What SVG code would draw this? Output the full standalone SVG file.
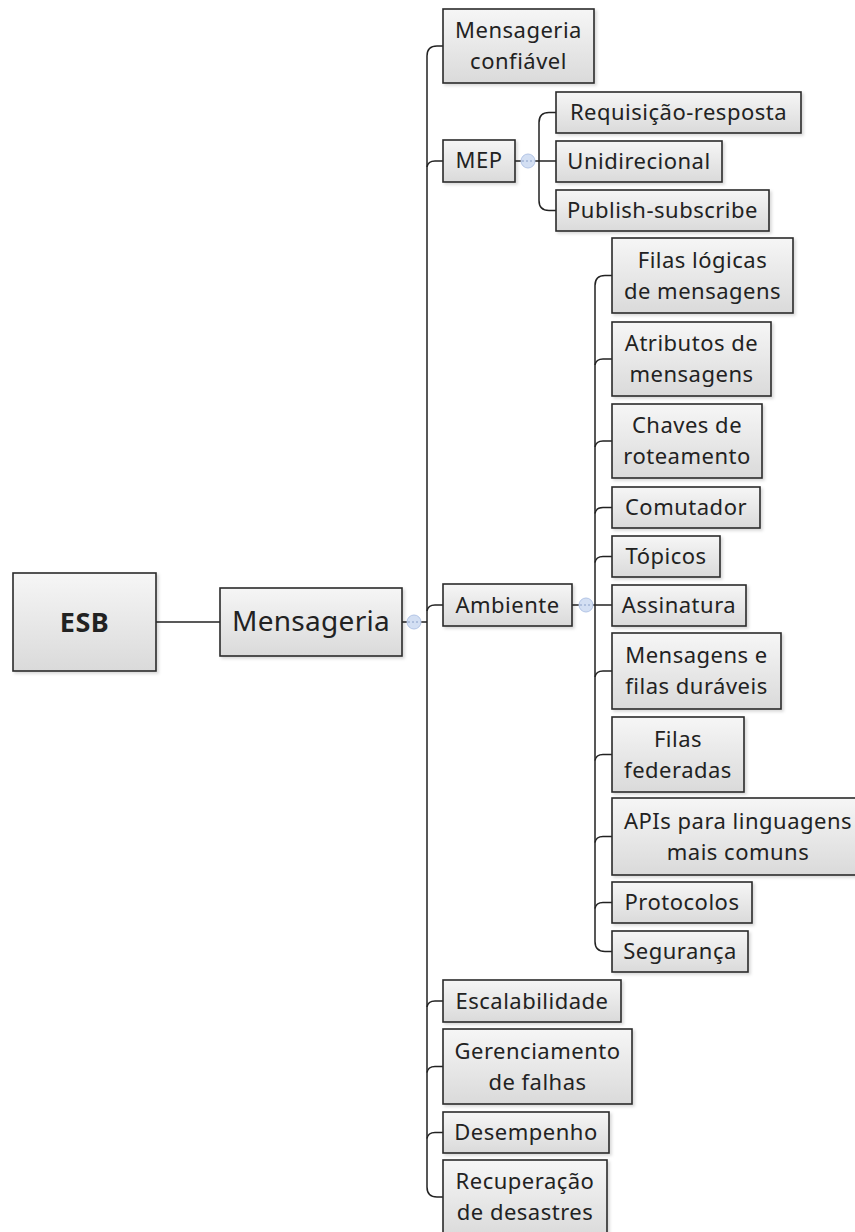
<svg xmlns="http://www.w3.org/2000/svg" width="855" height="1232" viewBox="0 0 855 1232">
<defs>
<linearGradient id="g" x1="0" y1="0" x2="0" y2="1">
<stop offset="0" stop-color="#f6f6f6"/>
<stop offset="1" stop-color="#dadada"/>
</linearGradient>
<filter id="sh" x="-10%" y="-10%" width="130%" height="130%">
<feDropShadow dx="2" dy="2" stdDeviation="1.5" flood-color="#000" flood-opacity="0.15"/>
</filter>
</defs>
<style>
.box{fill:url(#g);stroke:#2a2a2a;stroke-width:1.6;filter:url(#sh)}
.t{font-family:"Noto Sans","Open Sans",sans-serif;font-size:22px;fill:#222;text-anchor:middle;letter-spacing:0.5px}
.big{font-size:28px;letter-spacing:0.3px}
.esb{font-weight:bold;font-size:27px;letter-spacing:0.5px}
.c{fill:none;stroke:#222;stroke-width:1.5}
.k{fill:#d3dff3;stroke:#b3c5e6;stroke-width:1}
.km{stroke:#8aa0c8;stroke-width:1;stroke-dasharray:2 2}
</style>
<rect width="855" height="1232" fill="#fff"/>
<g id="connectors">
<path class="c" d="M156,622 H220"/>
<path class="c" d="M402,622 H427"/>
<path class="c" d="M443,46 H437 Q427,46 427,56 V1187 Q427,1197 437,1197 H443"/>
<path class="c" d="M427,167 Q428,161 435,161 H443"/>
<path class="c" d="M427,611 Q428,605 435,605 H443"/>
<path class="c" d="M427,1007 Q428,1001 435,1001 H443"/>
<path class="c" d="M427,1072.5 Q428,1066.5 435,1066.5 H443"/>
<path class="c" d="M427,1138.5 Q428,1132.5 435,1132.5 H443"/>
<path class="c" d="M515,161 H556"/>
<path class="c" d="M556,112.5 H549 Q539,112.5 539,122.5 V200.5 Q539,210.5 549,210.5 H556"/>
<path class="c" d="M572,605 H612"/>
<path class="c" d="M612,275.5 H605 Q595,275.5 595,285.5 V941.5 Q595,951.5 605,951.5 H612"/>
<path class="c" d="M595,365 Q596,359 603,359 H612"/>
<path class="c" d="M595,447 Q596,441 603,441 H612"/>
<path class="c" d="M595,513.5 Q596,507.5 603,507.5 H612"/>
<path class="c" d="M595,562.5 Q596,556.5 603,556.5 H612"/>
<path class="c" d="M595,677 Q596,671 603,671 H612"/>
<path class="c" d="M595,760.5 Q596,754.5 603,754.5 H612"/>
<path class="c" d="M595,842.5 Q596,836.5 603,836.5 H612"/>
<path class="c" d="M595,908.5 Q596,902.5 603,902.5 H612"/>
<circle class="k" cx="414" cy="622" r="7"/>
<path class="km" d="M408,622 H420"/>
<circle class="k" cx="528" cy="161" r="7"/>
<path class="km" d="M522,161 H534"/>
<circle class="k" cx="586" cy="605" r="7"/>
<path class="km" d="M580,605 H592"/>
</g>
<g id="esb"><rect class="box" x="13" y="573" width="143" height="98"/><text class="t esb" x="84.5" y="632">ESB</text></g>
<g id="mensageria"><rect class="box" x="220" y="588" width="182" height="68"/><text class="t big" x="311" y="631">Mensageria</text></g>
<g id="mensageria-confiavel"><rect class="box" x="443" y="9" width="151" height="74"/><text class="t" x="518.5" y="38">Mensageria</text><text class="t" x="518.5" y="69">confiável</text></g>
<g id="mep"><rect class="box" x="443" y="140" width="72" height="42"/><text class="t" x="479" y="168">MEP</text></g>
<g id="requisicao"><rect class="box" x="556" y="92" width="245" height="41"/><text class="t" x="678.5" y="119.5">Requisição-resposta</text></g>
<g id="unidirecional"><rect class="box" x="556" y="141" width="166" height="41"/><text class="t" x="639" y="168.5">Unidirecional</text></g>
<g id="publish"><rect class="box" x="556" y="190" width="213" height="41"/><text class="t" x="662.5" y="217.5">Publish-subscribe</text></g>
<g id="ambiente"><rect class="box" x="443" y="584" width="129" height="42"/><text class="t" x="507.5" y="612.5">Ambiente</text></g>
<g id="filas-logicas"><rect class="box" x="612" y="238" width="181" height="75"/><text class="t" x="702.5" y="267.5">Filas lógicas</text><text class="t" x="702.5" y="298.5">de mensagens</text></g>
<g id="atributos"><rect class="box" x="612" y="322" width="159" height="74"/><text class="t" x="691.5" y="351">Atributos de</text><text class="t" x="691.5" y="382">mensagens</text></g>
<g id="chaves"><rect class="box" x="612" y="404" width="150" height="74"/><text class="t" x="687" y="433">Chaves de</text><text class="t" x="687" y="464">roteamento</text></g>
<g id="comutador"><rect class="box" x="612" y="487" width="148" height="41"/><text class="t" x="686" y="514.5">Comutador</text></g>
<g id="topicos"><rect class="box" x="612" y="536" width="108" height="41"/><text class="t" x="666" y="563.5">Tópicos</text></g>
<g id="assinatura"><rect class="box" x="612" y="585" width="134" height="41"/><text class="t" x="679" y="612.5">Assinatura</text></g>
<g id="mensagens-filas"><rect class="box" x="612" y="633" width="169" height="76"/><text class="t" x="696.5" y="663">Mensagens e</text><text class="t" x="696.5" y="694">filas duráveis</text></g>
<g id="filas-federadas"><rect class="box" x="612" y="717" width="132" height="75"/><text class="t" x="678" y="746.5">Filas</text><text class="t" x="678" y="777.5">federadas</text></g>
<g id="apis"><rect class="box" x="612" y="798" width="252" height="77"/><text class="t" x="738" y="828.5">APIs para linguagens</text><text class="t" x="738" y="859.5">mais comuns</text></g>
<g id="protocolos"><rect class="box" x="612" y="882" width="140" height="41"/><text class="t" x="682" y="909.5">Protocolos</text></g>
<g id="seguranca"><rect class="box" x="612" y="931" width="136" height="41"/><text class="t" x="680" y="958.5">Segurança</text></g>
<g id="escalabilidade"><rect class="box" x="443" y="980" width="178" height="42"/><text class="t" x="532" y="1008.5">Escalabilidade</text></g>
<g id="gerenciamento"><rect class="box" x="443" y="1029" width="189" height="75"/><text class="t" x="537.5" y="1058.5">Gerenciamento</text><text class="t" x="537.5" y="1089.5">de falhas</text></g>
<g id="desempenho"><rect class="box" x="443" y="1112" width="166" height="41"/><text class="t" x="526" y="1139.5">Desempenho</text></g>
<g id="recuperacao"><rect class="box" x="443" y="1160" width="164" height="78"/><text class="t" x="525" y="1189">Recuperação</text><text class="t" x="525" y="1220">de desastres</text></g>
</svg>
